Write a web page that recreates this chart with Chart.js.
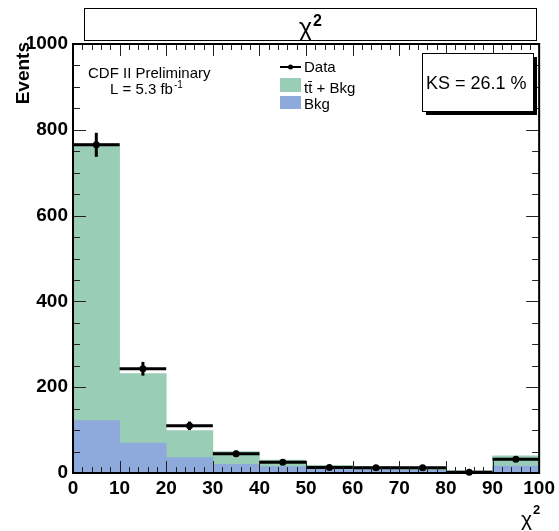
<!DOCTYPE html>
<html>
<head>
<meta charset="utf-8">
<script src="https://cdn.jsdelivr.net/npm/chart.js@4"></script>
<style>
  html, body { margin: 0; padding: 0; background: #fff; }
  #wrap { width: 559px; height: 531px; }
</style>
</head>
<body>
<div id="wrap"><canvas id="chart" width="559" height="531"></canvas></div>
<script>
// bin centres of the chi2 histogram (10 wide bins, 0..100)
const binCenters = [5, 15, 25, 35, 45, 55, 65, 75, 85, 95];
const ttbarPlusBkg = [768, 232, 99, 50, 30, 18, 15, 14, 5, 40];
const bkgOnly = [122, 70, 36, 20, 15, 10, 8, 7, 3, 16];
const dataCounts = [765, 243, 110, 45, 25, 13, 12, 12, 2, 32];
const dataErrors = [28, 16, 10, 7, 5, 4, 3, 3, 1, 6];
const binHalfWidth = 5;

const FONT = "'Liberation Sans', Arial, Helvetica, sans-serif";
const GREEN = "#99cdb5";
const BLUE = "#8eaadc";

const toXY = (vals) => vals.map((v, i) => ({ x: binCenters[i], y: v }));

// ROOT-like frame, inside ticks, error bars, boxes and texts
const decorations = {
  id: "decorations",
  afterDatasetsDraw(chart) {
    const ctx = chart.ctx;
    const { left, right, top, bottom } = chart.chartArea;
    const xs = chart.scales.x;
    const ys = chart.scales.y;
    ctx.save();

    // data points with error bars
    ctx.strokeStyle = "#000";
    ctx.fillStyle = "#000";
    dataCounts.forEach((v, i) => {
      const c = binCenters[i];
      const px = xs.getPixelForValue(c);
      const py = ys.getPixelForValue(v);
      ctx.lineWidth = 3;
      ctx.beginPath();
      ctx.moveTo(xs.getPixelForValue(c - binHalfWidth), py);
      ctx.lineTo(xs.getPixelForValue(c + binHalfWidth), py);
      ctx.stroke();
      ctx.beginPath();
      ctx.moveTo(px, ys.getPixelForValue(Math.max(0, v - dataErrors[i])));
      ctx.lineTo(px, ys.getPixelForValue(v + dataErrors[i]));
      ctx.stroke();
      ctx.beginPath();
      ctx.arc(px, py, 3.5, 0, Math.PI * 2);
      ctx.fill();
    });

    // inside ticks
    ctx.strokeStyle = "#222";
    ctx.lineWidth = 1;
    ctx.beginPath();
    for (let v = 0; v <= 100; v += 2) {
      const px = Math.round(xs.getPixelForValue(v)) + 0.5;
      const len = v % 10 === 0 ? 12 : 6;
      ctx.moveTo(px, bottom); ctx.lineTo(px, bottom - len);
      ctx.moveTo(px, top); ctx.lineTo(px, top + len);
    }
    for (let v = 0; v <= 1000; v += 50) {
      const py = Math.round(ys.getPixelForValue(v)) + 0.5;
      const len = v % 200 === 0 ? 13 : 7;
      ctx.moveTo(left, py); ctx.lineTo(left + len, py);
      ctx.moveTo(right, py); ctx.lineTo(right - len, py);
    }
    ctx.stroke();

    // frame
    ctx.strokeStyle = "#000";
    ctx.lineWidth = 2;
    ctx.strokeRect(left, top, right - left, bottom - top);

    // title box
    ctx.lineWidth = 1;
    ctx.strokeStyle = "#000";
    ctx.fillStyle = "#fff";
    ctx.fillRect(84.5, 8.5, 452, 32);
    ctx.strokeRect(84.5, 8.5, 452, 32);
    ctx.fillStyle = "#000";
    ctx.textBaseline = "alphabetic";
    ctx.textAlign = "left";
    ctx.font = "25px " + FONT;
    const chiW = ctx.measureText("χ").width;
    ctx.fillText("χ", 299, 36);
    ctx.font = "bold 16px " + FONT;
    ctx.fillText("2", 299 + chiW + 1, 26);

    // axis titles
    ctx.save();
    ctx.translate(29, 42);
    ctx.rotate(-Math.PI / 2);
    ctx.textAlign = "right";
    ctx.font = "bold 19px " + FONT;
    ctx.fillText("Events", 0, 0);
    ctx.restore();

    ctx.textAlign = "left";
    ctx.font = "21px " + FONT;
    ctx.fillText("χ", 521, 526);
    ctx.font = "bold 13px " + FONT;
    ctx.fillText("2", 533, 514);

    // CDF label
    ctx.font = "15px " + FONT;
    ctx.fillText("CDF II Preliminary", 88, 78);
    ctx.fillText("L = 5.3 fb", 110, 94);
    const lw = ctx.measureText("L = 5.3 fb").width;
    ctx.font = "10px " + FONT;
    ctx.fillText("-1", 110 + lw + 1, 88);

    // legend
    ctx.strokeStyle = "#000";
    ctx.lineWidth = 2;
    ctx.beginPath();
    ctx.moveTo(280, 67); ctx.lineTo(301, 67);
    ctx.stroke();
    ctx.beginPath();
    ctx.arc(290.5, 67, 2.5, 0, Math.PI * 2);
    ctx.fill();
    ctx.fillStyle = GREEN;
    ctx.fillRect(280, 78, 21, 14);
    ctx.fillStyle = BLUE;
    ctx.fillRect(280, 96, 21, 13);
    ctx.fillStyle = "#000";
    ctx.font = "15px " + FONT;
    ctx.fillText("Data", 304, 72);
    ctx.fillText("tt\u0304 + Bkg", 304, 93);
    ctx.fillText("Bkg", 304, 109);

    // KS box with shadow
    ctx.fillStyle = "#000";
    ctx.fillRect(426, 57, 111, 58);
    ctx.fillStyle = "#fff";
    ctx.fillRect(422.5, 53.5, 111, 58);
    ctx.lineWidth = 1;
    ctx.strokeRect(422.5, 53.5, 111, 58);
    ctx.fillStyle = "#000";
    ctx.font = "18px " + FONT;
    ctx.fillText("KS = 26.1 %", 426, 89);

    ctx.restore();
  },
};

new Chart(document.getElementById("chart"), {
  type: "bar",
  data: {
    datasets: [
      {
        label: "Bkg",
        data: toXY(bkgOnly),
        backgroundColor: BLUE,
        borderWidth: 0,
        order: 1,
      },
      {
        label: "tt + Bkg",
        data: toXY(ttbarPlusBkg),
        backgroundColor: GREEN,
        borderWidth: 0,
        order: 2,
      },
    ],
  },
  options: {
    responsive: false,
    animation: false,
    layout: { padding: { top: 44, right: 19, left: 0, bottom: 0 } },
    datasets: { bar: { grouped: false, barPercentage: 1, categoryPercentage: 1 } },
    plugins: { legend: { display: false }, tooltip: { enabled: false }, title: { display: false } },
    scales: {
      x: {
        type: "linear",
        min: 0,
        max: 100,
        offset: false,
        grid: { display: false, offset: false, drawTicks: false, tickLength: 0 },
        border: { display: false },
        ticks: {
          stepSize: 10,
          padding: 4,
          maxRotation: 0,
          color: "#000",
          font: { family: FONT, size: 19, weight: "bold" },
          callback: (v) => String(v),
        },
        afterFit(scale) { scale.height = 58; },
      },
      y: {
        min: 0,
        max: 1000,
        grid: { display: false, drawTicks: false, tickLength: 0 },
        border: { display: false },
        ticks: {
          stepSize: 200,
          padding: 5,
          color: "#000",
          font: { family: FONT, size: 19, weight: "bold" },
          callback: (v) => String(v),
        },
        afterFit(scale) { scale.width = 73; },
      },
    },
  },
  plugins: [decorations],
});
</script>
</body>
</html>
